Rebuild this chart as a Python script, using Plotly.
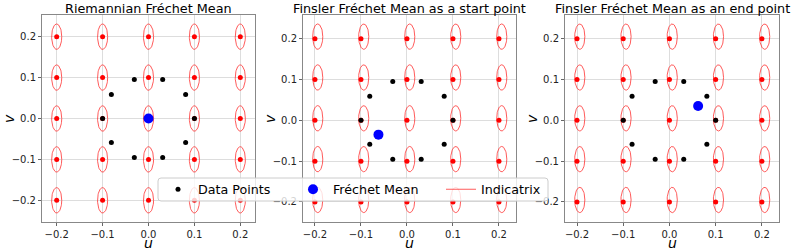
import numpy as np
import plotly.graph_objects as go

# ---- data ----
grid_u = [-0.2, -0.1, 0.0, 0.1, 0.2]
grid_v = [-0.2, -0.1, 0.0, 0.1, 0.2]

data_u = [0.1, 0.0809, 0.0309, -0.0309, -0.0809, -0.1, -0.0809, -0.0309, 0.0309, 0.0809]
data_v = [0.0, 0.0588, 0.0951, 0.0951, 0.0588, 0.0, -0.0588, -0.0951, -0.0951, -0.0588]

titles = ["Riemannian Fréchet Mean",
          "Finsler Fréchet Mean as a start point",
          "Finsler Fréchet Mean as an end point"]
mean_u = [0.0, -0.062, 0.062]
mean_v = [0.0, -0.035, 0.035]

# indicatrix: semi-axes and centre offset per panel
ind_a = [0.011, 0.011, 0.011]
ind_b = [0.031, 0.031, 0.031]
ind_du = [0.0, 0.006, 0.006]
ind_dv = [0.0, 0.005, 0.005]

tick_vals = [-0.2, -0.1, 0.0, 0.1, 0.2]
tick_text = ["\u22120.2", "\u22120.1", "0.0", "0.1", "0.2"]

x_ranges = [[-0.232, 0.232], [-0.226, 0.237], [-0.226, 0.237]]
y_ranges = [[-0.253, 0.253], [-0.249, 0.258], [-0.249, 0.258]]

# ---- layout geometry (pixels) ----
W, H = 793, 251
px_left = [42, 303, 565]
px_right = [255, 516, 779]
px_top, px_bottom = 15, 222

FONT = "DejaVu Sans"
fig = go.Figure()

theta = np.linspace(0, 2 * np.pi, 60)
for k in range(3):
    xa = "x" if k == 0 else f"x{k+1}"
    ya = "y" if k == 0 else f"y{k+1}"
    ex, ey = [], []
    cu, cv = [], []
    for u in grid_u:
        for v in grid_v:
            ex += list(u + ind_du[k] + ind_a[k] * np.cos(theta)) + [None]
            ey += list(v + ind_dv[k] + ind_b[k] * np.sin(theta)) + [None]
            cu.append(u)
            cv.append(v)
    fig.add_trace(go.Scatter(x=ex, y=ey, mode="lines", xaxis=xa, yaxis=ya,
                             line=dict(color="rgba(255,50,50,0.8)", width=1),
                             name="Indicatrix", legendrank=3, legendwidth=62,
                             showlegend=(k == 0), hoverinfo="skip"))
    fig.add_trace(go.Scatter(x=cu, y=cv, mode="markers", xaxis=xa, yaxis=ya,
                             marker=dict(color="red", size=5),
                             showlegend=False, hoverinfo="skip"))
    fig.add_trace(go.Scatter(x=data_u, y=data_v, mode="markers", xaxis=xa, yaxis=ya,
                             marker=dict(color="black", size=5),
                             name="Data Points", legendrank=1, legendwidth=90,
                             showlegend=(k == 0)))
    fig.add_trace(go.Scatter(x=[mean_u[k]], y=[mean_v[k]], mode="markers", xaxis=xa, yaxis=ya,
                             marker=dict(color="blue", size=10),
                             name="Fréchet Mean", legendrank=2, legendwidth=103,
                             showlegend=(k == 0)))

axis_common = dict(tickvals=tick_vals, ticktext=tick_text, showgrid=True,
                   gridcolor="#dddddd", gridwidth=1, zeroline=False,
                   showline=True, linecolor="#888888", linewidth=1, mirror=True,
                   ticks="outside", ticklen=3, tickcolor="#666666",
                   tickfont=dict(family=FONT, size=10, color="#222222"))

annotations = []
for k in range(3):
    sfx = "" if k == 0 else str(k + 1)
    dom_x = [px_left[k] / W, px_right[k] / W]
    dom_y = [(H - px_bottom) / H, (H - px_top) / H]
    fig.layout["xaxis" + sfx] = dict(domain=dom_x, range=x_ranges[k],
                                     anchor="y" + sfx, **axis_common)
    fig.layout["yaxis" + sfx] = dict(domain=dom_y, range=y_ranges[k],
                                     anchor="x" + sfx, **axis_common)
    cx = (px_left[k] + px_right[k]) / 2 / W
    annotations.append(dict(text=titles[k], x=cx, y=(H - 8.5) / H,
                            xref="paper", yref="paper", xanchor="center",
                            yanchor="middle", showarrow=False,
                            font=dict(family=FONT, size=12.8, color="black")))
    annotations.append(dict(text="<i>u</i>", x=cx, y=(H - 243) / H,
                            xref="paper", yref="paper", xanchor="center",
                            yanchor="middle", showarrow=False,
                            font=dict(family=FONT, size=14, color="black")))
    annotations.append(dict(text="<i>v</i>", x=(px_left[k] - 33) / W,
                            y=(H - 119) / H, textangle=-90,
                            xref="paper", yref="paper", xanchor="center",
                            yanchor="middle", showarrow=False,
                            font=dict(family=FONT, size=14, color="black")))

# legend frame (rounded rectangle) in paper coordinates
lx0, lx1, ly_top, ly_bot, r = 158, 548, 178, 201, 3
def px(x):
    return x / W
def py(y):
    return (H - y) / H
path = (f"M {px(lx0 + r)},{py(ly_top)} L {px(lx1 - r)},{py(ly_top)} "
        f"Q {px(lx1)},{py(ly_top)} {px(lx1)},{py(ly_top + r)} "
        f"L {px(lx1)},{py(ly_bot - r)} Q {px(lx1)},{py(ly_bot)} {px(lx1 - r)},{py(ly_bot)} "
        f"L {px(lx0 + r)},{py(ly_bot)} Q {px(lx0)},{py(ly_bot)} {px(lx0)},{py(ly_bot - r)} "
        f"L {px(lx0)},{py(ly_top + r)} Q {px(lx0)},{py(ly_top)} {px(lx0 + r)},{py(ly_top)} Z")

fig.update_layout(
    width=W, height=H, margin=dict(l=0, r=0, t=0, b=0),
    paper_bgcolor="white", plot_bgcolor="white",
    annotations=annotations,
    shapes=[dict(type="path", path=path, xref="paper", yref="paper",
                 fillcolor="rgba(255,255,255,0.8)",
                 line=dict(color="#cccccc", width=1), layer="above")],
    legend=dict(orientation="h", x=158 / W, y=(H - 174.5) / H,
                xanchor="left", yanchor="top",
                bgcolor="rgba(0,0,0,0)", borderwidth=0,
                font=dict(family=FONT, size=12.7, color="black")),
    showlegend=True,
)

fig.write_html("out.html", config={"displayModeBar": False},
               post_script="document.body.style.margin='0';document.body.style.padding='0';")
